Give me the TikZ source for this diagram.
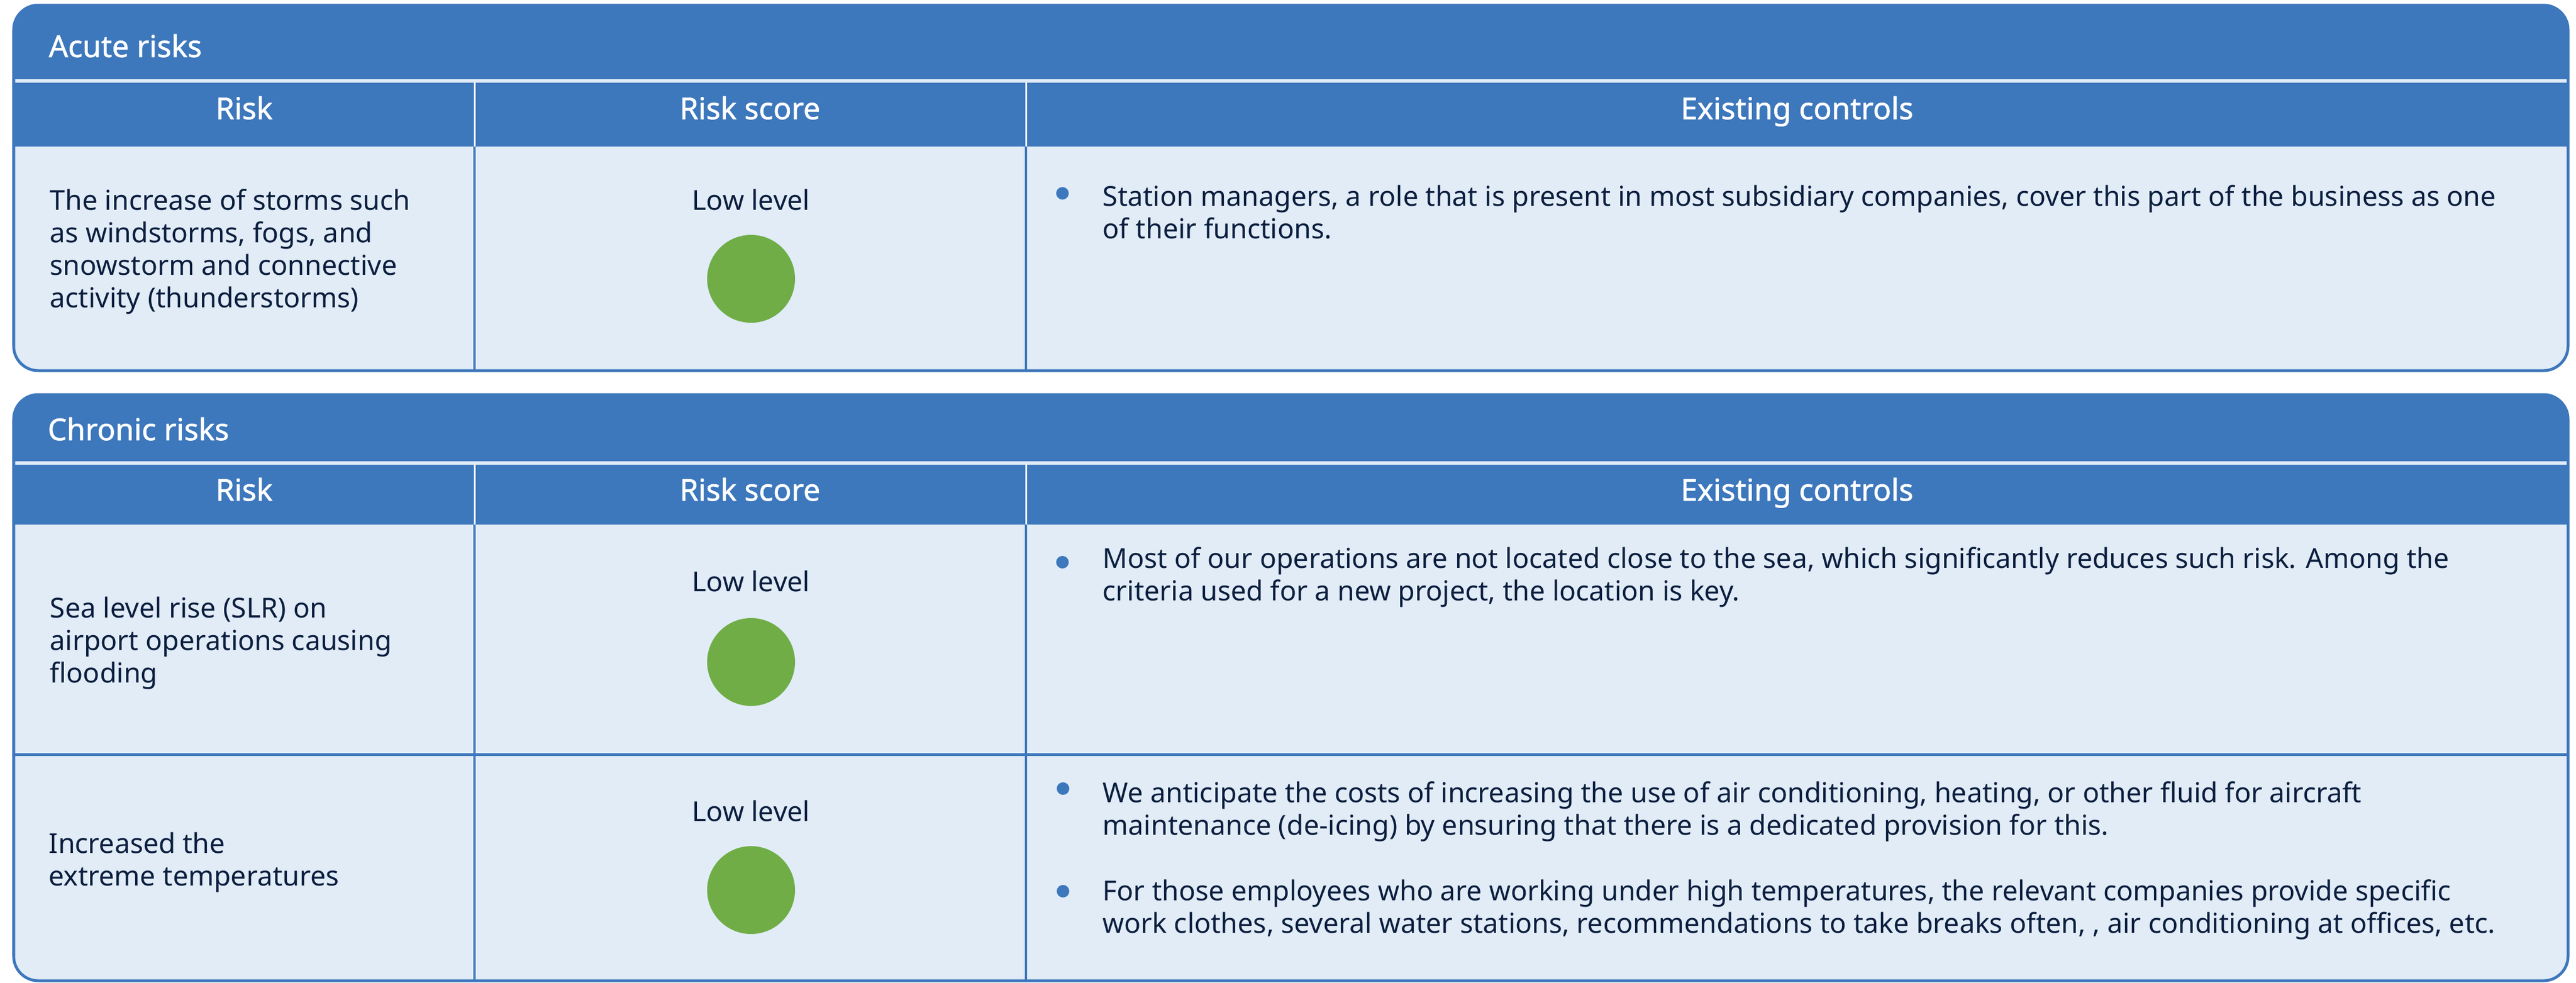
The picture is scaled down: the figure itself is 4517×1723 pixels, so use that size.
\documentclass[tikz,border=0pt]{standalone}
\usepackage{fontspec}
\setmainfont{Noto Sans}
\newfontfamily\headfont{Noto Sans}[FakeBold=1.2]

\definecolor{barblue}{RGB}{61,119,188}
\definecolor{cellfill}{RGB}{225,236,247}
\definecolor{inkblue}{RGB}{12,30,62}
\definecolor{lowgreen}{RGB}{112,173,70}

% multi-line cells sit on the baseline of their last line
\tikzset{
  boxline/.style={draw=barblue, line width=0.05cm, rounded corners=0.43cm},
  boxtitle/.style={anchor=base west, inner sep=0pt, text=white, font=\headfont\fontsize{15}{17}\selectfont},
  colhead/.style={anchor=base, inner sep=0pt, text=white, font=\headfont\fontsize{15}{17}\selectfont},
  celltext/.style={anchor=base west, align=left, inner sep=0pt, text=inkblue, font=\fontsize{13.7}{16.2}\selectfont},
  scoretext/.style={anchor=base, inner sep=0pt, text=inkblue, font=\fontsize{13.7}{16.2}\selectfont},
  lowdot/.style={circle, fill=lowgreen, minimum size=1.54cm, inner sep=0pt},
  bulletdot/.style={circle, fill=barblue, minimum size=0.22cm, inner sep=0pt},
}

\begin{document}
\begin{tikzpicture}[x=0.01cm, y=-0.01cm]
\useasboundingbox (0,0) rectangle (4517,1723);

% acute risks
\begin{scope}
  \clip[rounded corners=0.43cm] (24,9) rectangle (4503,650);
  \fill[cellfill] (24,9) rectangle (4503,650);
  \fill[barblue] (24,9) rectangle (4503,139);
  \fill[barblue] (24,145) rectangle (4503,257);
\end{scope}
\draw[white, line width=0.03cm] (832,145) -- (832,257) (1799,145) -- (1799,257);
\draw[barblue, line width=0.045cm] (832,257) -- (832,650) (1799,257) -- (1799,650);
\draw[boxline] (24,9) rectangle (4503,650);

\node[boxtitle] (acute) at (85,100) {Acute risks};
\node[colhead] (acuterisk) at (428,209) {Risk};
\node[colhead] (acutescore) at (1315,209) {Risk score};
\node[colhead] (acutectrl) at (3151,209) {Existing controls};

\node[celltext] (storms) at (87,539) {The increase of storms such\\as windstorms, fogs, and\\snowstorm and connective\\activity (thunderstorms)};
\node[scoretext] (stormsscore) at (1317,368) {Low level};
\node[lowdot] (stormsdot) at (1317,489) {};
\node[bulletdot] (stormsbul) at (1863,339) {};
\node[celltext] (stormsctrl) at (1933,418) {Station managers, a role that is present in most subsidiary companies, cover this part of the business as one\\of their functions.};

% chronic risks
\begin{scope}
  \clip[rounded corners=0.43cm] (24,692) rectangle (4503,1720);
  \fill[cellfill] (24,692) rectangle (4503,1720);
  \fill[barblue] (24,692) rectangle (4503,809);
  \fill[barblue] (24,815) rectangle (4503,920);
\end{scope}
\draw[white, line width=0.03cm] (832,815) -- (832,920) (1799,815) -- (1799,920);
\draw[barblue, line width=0.045cm] (832,920) -- (832,1720) (1799,920) -- (1799,1720);
\draw[barblue, line width=0.05cm] (24,1323) -- (4503,1323);
\draw[boxline] (24,692) rectangle (4503,1720);

\node[boxtitle] (chronic) at (83,772) {Chronic risks};
\node[colhead] (chronicrisk) at (428,878) {Risk};
\node[colhead] (chronicscore) at (1315,878) {Risk score};
\node[colhead] (chronicctrl) at (3151,878) {Existing controls};

\node[celltext] (sea) at (87,1197) {Sea level rise (SLR) on\\airport operations causing\\flooding};
\node[scoretext] (seascore) at (1317,1037) {Low level};
\node[lowdot] (seadot) at (1317,1161) {};
\node[bulletdot] (seabul) at (1863,986) {};
\node[celltext] (seactrl) at (1933,1053) {Most of our operations are not located close to the sea, which significantly reduces such risk. Among the\\criteria used for a new project, the location is key.};

\node[celltext] (heat) at (85,1553) {Increased the\\extreme temperatures};
\node[scoretext] (heatscore) at (1317,1440) {Low level};
\node[lowdot] (heatdot) at (1317,1561) {};
\node[bulletdot] (heatbula) at (1864,1383) {};
\node[celltext] (heatctrla) at (1933,1464) {We anticipate the costs of increasing the use of air conditioning, heating, or other fluid for aircraft\\maintenance (de-icing) by ensuring that there is a dedicated provision for this.};
\node[bulletdot] (heatbulb) at (1864,1563) {};
\node[celltext] (heatctrlb) at (1933,1636) {For those employees who are working under high temperatures, the relevant companies provide specific\\work clothes, several water stations, recommendations to take breaks often, , air conditioning at offices, etc.};
\end{tikzpicture}
\end{document}
